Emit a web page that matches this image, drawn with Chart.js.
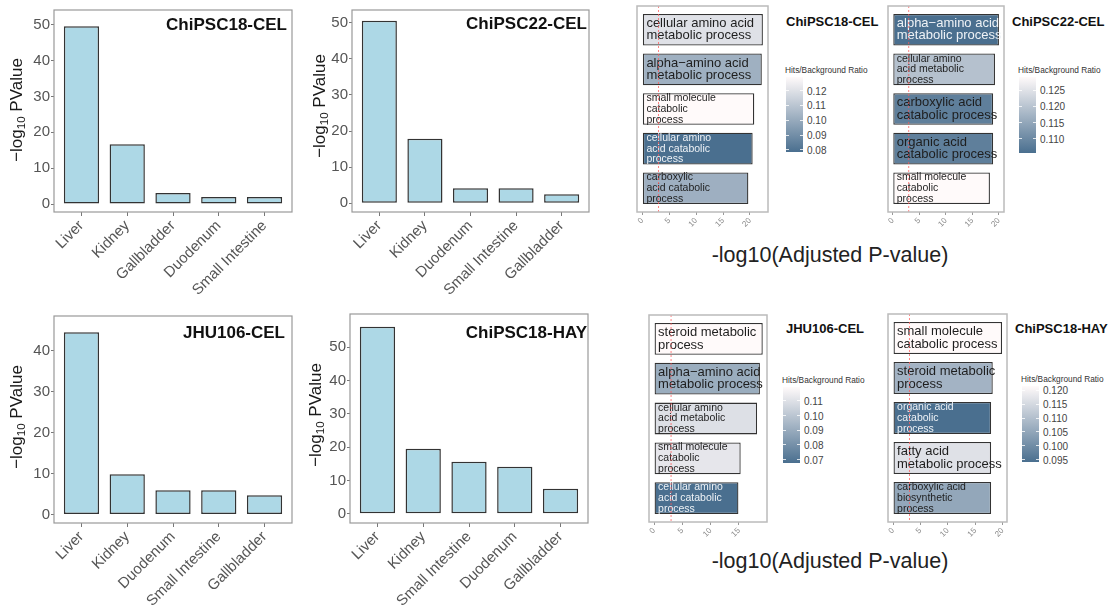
<!DOCTYPE html>
<html>
<head>
<meta charset="utf-8">
<script src="https://cdn.jsdelivr.net/npm/chart.js@4.4.1/dist/chart.umd.min.js"></script>
<style>
body{margin:0;background:#fff;font-family:"Liberation Sans",Arial,sans-serif;}
#wrap{position:relative;width:1111px;height:608px;overflow:hidden;}
canvas{position:absolute;}
.ytitle{position:absolute;transform:translate(-50%,-50%) rotate(-90deg);white-space:nowrap;font-size:17px;color:#1a1a1a;}
.ytitle sub{font-size:11.5px;vertical-align:-3px;}
.ptitle{position:absolute;font-weight:bold;font-size:13px;color:#111;transform:translateY(-50%);white-space:nowrap;}
.ltitle{position:absolute;font-size:8.3px;color:#333;white-space:nowrap;transform:translateY(-50%);}
.cbar{position:absolute;width:17px;}
.ctick{position:absolute;font-size:10px;color:#444;transform:translateY(-50%);white-space:nowrap;}
.cmark{position:absolute;width:3px;height:1px;background:rgba(255,255,255,0.8);}
.xtitle{position:absolute;font-size:21.5px;color:#222;transform:translate(-50%,-50%);white-space:nowrap;}
</style>
</head>
<body>
<div id="wrap">
  <canvas id="t18cel" width="300" height="300" style="left:0;top:0"></canvas>
  <canvas id="t22cel" width="295" height="300" style="left:300px;top:0"></canvas>
  <canvas id="tjhu" width="300" height="304" style="left:0;top:304px"></canvas>
  <canvas id="t18hay" width="295" height="304" style="left:300px;top:304px"></canvas>

  <canvas id="g18cel" width="145" height="240" style="left:630px;top:0"></canvas>
  <canvas id="g22cel" width="130" height="240" style="left:880px;top:0"></canvas>
  <canvas id="gjhu" width="135" height="240" style="left:640px;top:304px"></canvas>
  <canvas id="g18hay" width="135" height="240" style="left:880px;top:304px"></canvas>

  <div class="ytitle" style="left:17px;top:110px">&minus;log<sub>10</sub> PValue</div>
  <div class="ytitle" style="left:320px;top:106px">&minus;log<sub>10</sub> PValue</div>
  <div class="ytitle" style="left:17px;top:417px">&minus;log<sub>10</sub> PValue</div>
  <div class="ytitle" style="left:316px;top:415px">&minus;log<sub>10</sub> PValue</div>

  <div class="ptitle" style="left:786px;top:21px">ChiPSC18-CEL</div>
  <div class="ptitle" style="left:1012px;top:21px">ChiPSC22-CEL</div>
  <div class="ptitle" style="left:786px;top:328px">JHU106-CEL</div>
  <div class="ptitle" style="left:1015px;top:328px">ChiPSC18-HAY</div>

  <div class="xtitle" style="left:830px;top:255px">-log10(Adjusted P-value)</div>
  <div class="xtitle" style="left:830px;top:561px">-log10(Adjusted P-value)</div>
</div>

<script>
// ================= TISSUE ENRICHMENT (left) =================
const cats18CEL = ["Liver", "Kidney", "Gallbladder", "Duodenum", "Small Intestine"];
const vals18CEL = [49.6, 16.7, 3.1, 2.0, 2.0];
const yTicks18CEL = [0, 10, 20, 30, 40, 50];

const cats22CEL = ["Liver", "Kidney", "Duodenum", "Small Intestine", "Gallbladder"];
const vals22CEL = [50.5, 17.9, 4.2, 4.2, 2.5];
const yTicks22CEL = [0, 10, 20, 30, 40, 50];

const catsJHU = ["Liver", "Kidney", "Duodenum", "Small Intestine", "Gallbladder"];
const valsJHU = [44.5, 9.8, 5.9, 5.9, 4.7];
const yTicksJHU = [0, 10, 20, 30, 40];

const cats18HAY = ["Liver", "Kidney", "Small Intestine", "Duodenum", "Gallbladder"];
const vals18HAY = [56.2, 19.5, 15.6, 14.1, 7.5];
const yTicks18HAY = [0, 10, 20, 30, 40, 50];

// ================= GO TERMS (right) =================
const padjCut = 3;

const terms18CEL = ["cellular amino acid\nmetabolic process", "alpha\u2212amino acid\nmetabolic process",
  "small molecule\ncatabolic\nprocess", "cellular amino\nacid catabolic\nprocess", "carboxylic\nacid catabolic\nprocess"];
const padj18CEL = [22.4, 22.2, 20.8, 20.5, 19.7];
const ratio18CEL = [0.1204, 0.1024, 0.1294, 0.0785, 0.1021];
const xTicks18CEL = [0, 5, 10, 15, 20];
const ratioTicks18CEL = ["0.08", "0.09", "0.10", "0.11", "0.12"];

const terms22CEL = ["alpha\u2212amino acid\nmetabolic process", "cellular amino\nacid metabolic\nprocess",
  "carboxylic acid\ncatabolic process", "organic acid\ncatabolic process", "small molecule\ncatabolic\nprocess"];
const padj22CEL = [20.0, 19.25, 18.9, 18.9, 18.3];
const ratio22CEL = [0.1058, 0.1195, 0.1085, 0.1085, 0.1290];
const xTicks22CEL = [0, 5, 10, 15, 20];
const ratioTicks22CEL = ["0.110", "0.115", "0.120", "0.125"];

const termsJHU = ["steroid metabolic\nprocess", "alpha\u2212amino acid\nmetabolic process",
  "cellular amino\nacid metabolic\nprocess", "small molecule\ncatabolic\nprocess", "cellular amino\nacid catabolic\nprocess"];
const padjJHU = [19.2, 18.7, 18.2, 15.3, 14.9];
const ratioJHU = [0.1192, 0.0906, 0.1096, 0.1120, 0.0679];
const xTicksJHU = [0, 5, 10, 15];
const ratioTicksJHU = ["0.07", "0.08", "0.09", "0.10", "0.11"];

const terms18HAY = ["small molecule\ncatabolic process", "steroid metabolic\nprocess",
  "organic acid\ncatabolic\nprocess", "fatty acid\nmetabolic process", "carboxylic acid\nbiosynthetic\nprocess"];
const padj18HAY = [19.9, 18.2, 17.9, 17.9, 17.9];
const ratio18HAY = [0.1215, 0.1077, 0.0944, 0.1167, 0.1053];
const xTicks18HAY = [0, 5, 10, 15, 20];
const ratioTicks18HAY = ["0.095", "0.100", "0.105", "0.110", "0.115", "0.120"];

// ================= HELPERS =================
const FONT = '"Liberation Sans", Arial, sans-serif';
Chart.defaults.font.family = FONT;

const LOW = [74, 111, 143];
const HIGH = [255, 250, 250];

function ratioColor(r, lo, hi){
    const t = Math.min(1, Math.max(0, (r - lo) / (hi - lo)));
    const c = LOW.map((l, i) => Math.round(l + t * (HIGH[i] - l)));
    return `rgb(${c[0]},${c[1]},${c[2]})`;
}

function fixTicks(values){
    return s => { s.ticks = values.map(v => ({value: v})); };
}

// panel border + corner title
const framePlugin = {
    id: "frame",
    afterDraw(chart, args, o){
        const {ctx, chartArea: a} = chart;
        ctx.save();
        ctx.strokeStyle = o.color;
        ctx.lineWidth = o.width;
        ctx.strokeRect(a.left, a.top, a.right - a.left, a.bottom - a.top);
        if(o.title){
            ctx.font = "bold 17px " + FONT;
            ctx.fillStyle = "#111";
            ctx.textAlign = "right";
            ctx.textBaseline = "middle";
            ctx.fillText(o.title, a.right - o.tx, a.top + o.ty);
        }
        ctx.restore();
    }
};

// text inside GO bars + red cutoff line
const termPlugin = {
    id: "terms",
    afterDatasetsDraw(chart, args, o){
        if(!o.labels) return;
        const ctx = chart.ctx;
        const meta = chart.getDatasetMeta(0);
        ctx.save();
        ctx.textAlign = "left";
        ctx.textBaseline = "middle";
        meta.data.forEach((bar, i) => {
            const lines = o.labels[i].split("\n");
            const big = lines.length < 3;
            const fs = big ? 13 : 10.5;
            const lh = big ? 12.3 : 10.7;
            const t = (o.ratios[i] - o.lo) / (o.hi - o.lo);
            ctx.font = fs + "px " + FONT;
            ctx.fillStyle = t < 0.05 ? "#eef2f6" : "#1e1e1e";
            const x0 = Math.min(bar.base, bar.x) + 3.5;
            lines.forEach((ln, j) => {
                ctx.fillText(ln, x0, bar.y + (j - (lines.length - 1) / 2) * lh);
            });
        });
        const a = chart.chartArea;
        const xc = chart.scales.x.getPixelForValue(padjCut);
        ctx.strokeStyle = "rgba(255,90,90,0.75)";
        ctx.lineWidth = 1;
        ctx.setLineDash([2, 2]);
        ctx.beginPath();
        ctx.moveTo(xc, a.top);
        ctx.lineTo(xc, a.bottom);
        ctx.stroke();
        ctx.restore();
    }
};

const slots = [1, 2, 3, 4, 5];

// ================= TISSUE BAR CHART =================
function tissueChart(id, cats, vals, yTicks, L){
    return new Chart(document.getElementById(id), {
        type: "bar",
        data: {
            datasets: [{
                data: vals.map((v, i) => ({x: slots[i], y: v})),
                backgroundColor: "#add8e6",
                borderColor: "#333",
                borderWidth: 1.5,
                borderSkipped: false,
                barPercentage: 0.77,
                categoryPercentage: 1
            }]
        },
        options: {
            responsive: false,
            animation: false,
            layout: {padding: {top: L.top, right: L.right, left: 0, bottom: 0}},
            plugins: {
                legend: {display: false},
                tooltip: {enabled: false},
                frame: {color: "#999", width: 1.2, title: L.title, tx: L.tx, ty: L.ty}
            },
            scales: {
                x: {
                    type: "linear", min: 0.4, max: 5.6, bounds: "data", offset: false,
                    afterBuildTicks: fixTicks(slots),
                    afterFit: s => { s.height = L.xh; },
                    ticks: {
                        callback: v => cats[Math.round(v) - 1],
                        minRotation: 45, maxRotation: 45, autoSkip: false,
                        font: {size: 15}, color: "#555", padding: 1
                    },
                    grid: {drawOnChartArea: false, offset: false, tickLength: 4, color: "#777"},
                    border: {display: false}
                },
                y: {
                    min: L.ymin, max: L.ymax, bounds: "data",
                    afterBuildTicks: fixTicks(yTicks),
                    afterFit: s => { s.width = L.yw; },
                    ticks: {font: {size: 15}, color: "#555", padding: 1},
                    grid: {drawOnChartArea: false, tickLength: 3, color: "#777"},
                    border: {display: false}
                }
            }
        },
        plugins: [framePlugin]
    });
}

// ================= GO TERM CHART =================
function termChart(id, labels, padj, ratios, xTicks, L){
    const lo = Math.min(...ratios), hi = Math.max(...ratios);
    return new Chart(document.getElementById(id), {
        type: "bar",
        data: {
            datasets: [{
                data: padj.map((v, i) => ({x: v, y: slots[i]})),
                backgroundColor: ratios.map(r => ratioColor(r, lo, hi)),
                borderColor: "#333",
                borderWidth: 1.3,
                borderSkipped: false,
                barPercentage: 0.8,
                categoryPercentage: 1
            }]
        },
        options: {
            indexAxis: "y",
            responsive: false,
            animation: false,
            layout: {padding: {top: L.top, right: L.right, left: L.left, bottom: 0}},
            plugins: {
                legend: {display: false},
                tooltip: {enabled: false},
                frame: {color: "#bbb", width: 1.5},
                terms: {labels, ratios, lo, hi}
            },
            scales: {
                x: {
                    type: "linear", min: L.xmin, max: L.xmax, bounds: "data", offset: false,
                    afterBuildTicks: fixTicks(xTicks),
                    afterFit: s => { s.height = L.xh; },
                    ticks: {minRotation: 45, maxRotation: 45, font: {size: 8}, color: "#888", padding: 1},
                    grid: {drawOnChartArea: false, offset: false, tickLength: 3, color: "#999"},
                    border: {display: false}
                },
                y: {
                    type: "linear", min: 0.4, max: 5.6, reverse: true, bounds: "data", offset: false,
                    afterBuildTicks: fixTicks(slots),
                    afterFit: s => { s.width = 0; },
                    ticks: {display: false},
                    grid: {display: false, offset: false},
                    border: {display: false}
                }
            }
        },
        plugins: [framePlugin, termPlugin]
    });
}

// ================= COLOUR LEGEND =================
function colorLegend(x, y, ratios, tickLabels){
    const wrap = document.getElementById("wrap");
    const lo = Math.min(...ratios), hi = Math.max(...ratios);
    const h = 75.5, w = 17;
    const t = document.createElement("div");
    t.className = "ltitle";
    t.style.left = (x - 1) + "px";
    t.style.top = (y - 7) + "px";
    t.textContent = "Hits/Background Ratio";
    wrap.appendChild(t);

    const bar = document.createElement("div");
    bar.className = "cbar";
    bar.style.left = x + "px";
    bar.style.top = y + "px";
    bar.style.height = h + "px";
    bar.style.background = `linear-gradient(to top, ${ratioColor(lo, lo, hi)}, ${ratioColor(hi, lo, hi)})`;
    wrap.appendChild(bar);

    tickLabels.forEach(lab => {
        const v = parseFloat(lab);
        const py = y + (hi - v) / (hi - lo) * h;
        const d = document.createElement("div");
        d.className = "ctick";
        d.style.left = (x + w + 4) + "px";
        d.style.top = py + "px";
        d.textContent = lab;
        wrap.appendChild(d);
        [x, x + w - 3].forEach(mx => {
            const m = document.createElement("div");
            m.className = "cmark";
            m.style.left = mx + "px";
            m.style.top = (py - 0.5) + "px";
            wrap.appendChild(m);
        });
    });
}

// ================= BUILD =================
tissueChart("t18cel", cats18CEL, vals18CEL, yTicks18CEL,
    {top: 5, right: 8, yw: 54, xh: 88, ymin: -2.2, ymax: 54.1, title: "ChiPSC18-CEL", tx: 5, ty: 15});
tissueChart("t22cel", cats22CEL, vals22CEL, yTicks22CEL,
    {top: 6, right: 6, yw: 52, xh: 88, ymin: -2.4, ymax: 53.5, title: "ChiPSC22-CEL", tx: 2, ty: 14});
tissueChart("tjhu", catsJHU, valsJHU, yTicksJHU,
    {top: 12, right: 8, yw: 54, xh: 85, ymin: -2.1, ymax: 48.5, title: "JHU106-CEL", tx: 7, ty: 17});
tissueChart("t18hay", cats18HAY, vals18HAY, yTicks18HAY,
    {top: 10, right: 7, yw: 50, xh: 85, ymin: -2.8, ymax: 60.0, title: "ChiPSC18-HAY", tx: 1, ty: 19});

termChart("g18cel", terms18CEL, padj18CEL, ratio18CEL, xTicks18CEL,
    {top: 6, left: 7, right: 7, xh: 28, xmin: -1.0, xmax: 23.35});
termChart("g22cel", terms22CEL, padj22CEL, ratio22CEL, xTicks22CEL,
    {top: 6, left: 8, right: 6, xh: 28, xmin: -0.9, xmax: 20.95});
termChart("gjhu", termsJHU, padjJHU, ratioJHU, xTicksJHU,
    {top: 11, left: 9, right: 8, xh: 22, xmin: -0.9, xmax: 19.95});
termChart("g18hay", terms18HAY, padj18HAY, ratio18HAY, xTicks18HAY,
    {top: 10, left: 8, right: 8, xh: 22, xmin: -0.92, xmax: 20.8});

colorLegend(786, 76.7, ratio18CEL, ratioTicks18CEL);
colorLegend(1019, 77, ratio22CEL, ratioTicks22CEL);
colorLegend(783, 387.3, ratioJHU, ratioTicksJHU);
colorLegend(1022, 386, ratio18HAY, ratioTicks18HAY);
</script>
</body>
</html>
